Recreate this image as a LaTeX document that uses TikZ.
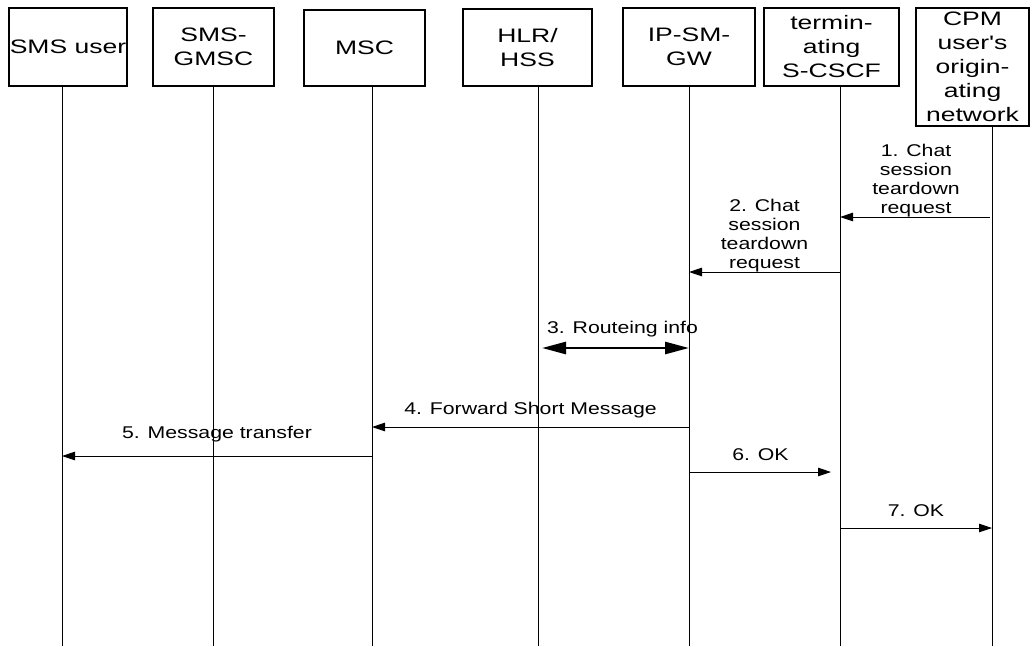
\documentclass[tikz,border=0pt]{standalone}
\usepackage{fontspec}
\setmainfont{Liberation Sans}
\newfontfamily\boxfont{Liberation Sans}[FakeStretch=1.36]
\newfontfamily\msgfont{Liberation Sans}[FakeStretch=1.25]
\usetikzlibrary{arrows.meta,positioning}

\begin{document}
\begin{tikzpicture}[
    x=1pt, y=-1pt,
    entity/.style={rectangle, draw, line width=1.1pt, inner sep=0pt, align=center,
      font={\boxfont\fontsize{19.5}{24}\selectfont}},
    life/.style={line width=0.9pt},
    msg/.style={-{Triangle[length=13pt, width=8.5pt]}, line width=0.9pt},
    bigmsg/.style={{Triangle[length=24pt, width=12pt]}-{Triangle[length=24pt, width=12pt]}, line width=2.7pt},
    msglabel/.style={inner sep=0pt, align=center, font={\msgfont\fontsize{17}{19}\selectfont}}
  ]
  \useasboundingbox (0,0) rectangle (1036,646);

  % Entities
  \node[entity, minimum width=118pt, minimum height=78pt] (SU) at (68,47) {SMS user};
  \node[entity, minimum width=121pt, minimum height=78pt] (GM) at (213.5,47) {SMS-\\GMSC};
  \node[entity, minimum width=121pt, minimum height=76pt] (MS) at (364.5,48) {MSC};
  \node[entity, minimum width=129pt, minimum height=77pt] (HL) at (527.5,47.5) {HLR/\\HSS};
  \node[entity, minimum width=132pt, minimum height=78pt] (GW) at (689,47) {IP-SM-\\GW};
  \node[entity, minimum width=135pt, minimum height=78pt] (CS) at (831.5,47) {termin-\\ating\\S-CSCF};
  \node[entity, minimum width=113pt, minimum height=118pt] (CP) at (972.5,67) {CPM\\user's\\origin-\\ating\\network};

  % Lifeline ends
  \coordinate (SUe) at (62,646);
  \coordinate (GMe) at (213,646);
  \coordinate (MSe) at (372,646);
  \coordinate (HLe) at (538,646);
  \coordinate (GWe) at (689,646);
  \coordinate (CSe) at (840,646);
  \coordinate (CPe) at (992,646);

  % Lifelines
  \draw[life] (SU.south -| SUe) -- (SUe);
  \draw[life] (GM.south -| GMe) -- (GMe);
  \draw[life] (MS.south -| MSe) -- (MSe);
  \draw[life] (HL.south -| HLe) -- (HLe);
  \draw[life] (GW.south -| GWe) -- (GWe);
  \draw[life] (CS.south -| CSe) -- (CSe);
  \draw[life] (CP.south -| CPe) -- (CPe);

  % Messages
  \draw[msg, shorten <=2pt] (CPe |- 0,217) -- node[msglabel, anchor=south] {1. Chat\\session\\teardown\\request} (CSe |- 0,217);
  \draw[msg] (CSe |- 0,272) -- node[msglabel, anchor=south] {2. Chat\\session\\teardown\\request} (GWe |- 0,272);
  \draw[bigmsg, shorten <=4pt] (HLe |- 0,348) -- node[msglabel, anchor=base, yshift=15pt, xshift=9pt] {3. Routeing info} (GWe |- 0,348);
  \draw[msg] (GWe |- 0,427) -- node[msglabel, anchor=base, yshift=13pt] {4. Forward Short Message} (MSe |- 0,427);
  \draw[msg] (MSe |- 0,456) -- node[msglabel, anchor=base, yshift=18pt] {5. Message transfer} (SUe |- 0,456);
  \draw[msg, shorten >=9pt] (GWe |- 0,472) -- node[msglabel, anchor=base, yshift=12pt, xshift=-4pt] {6. OK} (CSe |- 0,472);
  \draw[msg] (CSe |- 0,528) -- node[msglabel, anchor=base, yshift=12pt] {7. OK} (CPe |- 0,528);

\end{tikzpicture}
\end{document}
